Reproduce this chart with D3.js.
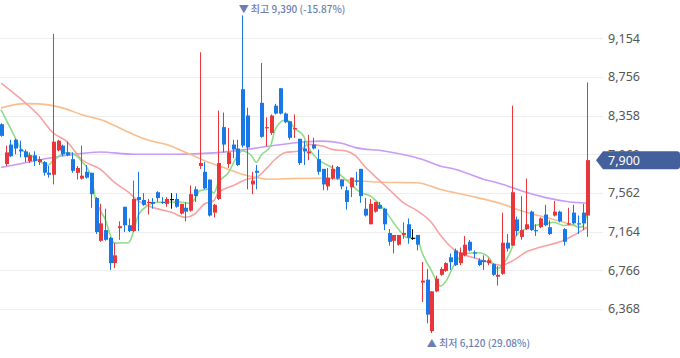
<!DOCTYPE html>
<html><head><meta charset="utf-8">
<script src="https://cdn.jsdelivr.net/npm/d3@7"></script>
<style>html,body{margin:0;padding:0;background:#fff;}svg{display:block;}</style>
</head><body><svg id="c" width="680" height="358"></svg>
<script>
// Candles (day index 0..124): open, high, low, close
const opens  = [8270,7860,8060,8110,8010,7990,7890,7950,7880,7880,7770,7750,8000,8050,7980,7910,7770,7710,7780,7770,
7510,7070,7180,7100,6840,7200,7420,7230,7170,7520,7490,7460,7470,7570,7470,7450,7500,7500,7350,7410,
7380,7600,7840,7780,7700,7360,7500,8240,7860,8060,8020,8630,8360,7650,7790,8490,8230,8180,8460,8640,
8380,8300,8220,8120,8020,7970,8060,7910,7810,7630,7710,7830,7700,7590,7620,7690,7810,7400,7240,7370,
7440,7400,7150,7070,7030,7130,7240,7100,7130,6640,6670,6140,6550,6720,6760,6900,6970,6840,6920,7060,
6950,6870,6870,6840,6830,6700,6730,7050,7020,7290,7110,7190,7370,7180,7210,7340,7210,7330,7370,7190,
7240,7360,7250,7360,7330];
const highs  = [8280,8050,8110,8120,8100,8010,7980,7990,7940,7890,7840,9200,8110,8060,8090,7980,7840,8050,7850,7770,
7520,7450,7400,7110,7050,7270,7420,7300,7690,7780,7560,7500,7510,7580,7520,7520,7560,7560,7450,7470,
7640,7630,9010,7880,7700,7450,8410,8390,8230,8110,8110,9390,8440,7780,7850,8900,8340,8370,8480,8640,
8390,8300,8370,8120,8100,8160,8130,8010,7810,7820,7850,7840,7700,7630,7720,7780,7810,7510,7500,7470,
7470,7410,7190,7130,7130,7260,7300,7190,7130,6850,6780,6550,6710,6800,6850,6940,6990,7000,7120,7080,
6970,6890,6920,6890,6840,6810,7360,7140,8460,7320,7530,7710,7380,7240,7310,7440,7280,7480,7380,7200,
7410,7440,7330,7450,8700];
const lows   = [8140,7840,7930,7960,7930,7880,7870,7840,7850,7740,7720,7650,7990,7940,7940,7770,7700,7700,7710,7410,
7140,7060,7070,6770,6790,7080,7160,7160,7160,7170,7430,7340,7400,7470,7450,7420,7400,7410,7340,7270,
7370,7470,7810,7600,7320,7310,7490,7980,7820,7920,7840,8030,7600,7550,7600,8130,8040,8160,8370,8370,
8280,8110,8130,7850,7850,7900,8010,7750,7590,7590,7700,7700,7600,7390,7520,7640,7460,7320,7240,7360,
7400,7180,7020,6940,7020,7090,7040,7080,6970,6440,6220,6120,6540,6710,6750,6770,6810,6820,6910,6960,
6890,6810,6770,6820,6710,6610,6720,6960,7020,7120,7080,7180,7170,7120,7200,7220,7130,7320,7260,7020,
7230,7240,7140,7180,7110];
const closes = [8150,7980,7940,8020,7990,7930,7950,7890,7910,7770,7750,8090,8100,7960,7950,7790,7820,7740,7720,7550,
7160,7250,7080,6840,6920,7220,7230,7170,7500,7490,7440,7470,7450,7510,7460,7500,7500,7420,7450,7370,
7550,7530,7870,7610,7330,7440,7870,8060,7980,8010,7850,8050,8030,7690,7770,8140,8240,8360,8380,8380,
8290,8130,8230,7870,7990,7990,8020,7780,7650,7720,7810,7710,7630,7470,7720,7680,7530,7330,7450,7470,
7400,7240,7060,7130,7130,7150,7100,7100,7030,6660,6310,6550,6680,6780,6840,6850,6820,6950,7030,6970,
6940,6820,6850,6870,6720,6720,7050,6990,7570,7170,7180,7240,7180,7170,7300,7230,7140,7370,7270,7060,
7250,7250,7240,7250,7900];

// Moving averages: [day index, value]
const ma5 = [[0,8420],[3,8131],[4,8032],[7,7929],[10,7848],[11,7892],[14,7977],[15,7970],[17,7892],[19,7738],[20,7500],[22,7295],[24,7046],[27,7050],[28,7162],[29,7329],[31,7431],[33,7466],[36,7466],[38,7469],[40,7454],[41,7500],[42,7585],[44,7602],[45,7561],[46,7670],[48,7766],[50,7943],[51,7994],[53,7945],[54,7878],[55,7950],[57,8045],[58,8216],[60,8311],[61,8301],[62,8233],[64,8147],[65,8032],[67,7909],[70,7824],[72,7738],[74,7653],[76,7568],[78,7533],[80,7448],[82,7329],[84,7193],[86,7101],[88,7096],[89,6954],[91,6766],[93,6604],[94,6647],[96,6835],[98,6937],[101,6947],[103,6906],[105,6783],[106,6817],[108,6988],[109,7124],[111,7193],[113,7227],[115,7244],[117,7261],[119,7227],[121,7237],[122,7210],[123,7220],[124,7364]];
const ma20 = [[0,8694],[4,8538],[8,8359],[11,8182],[14,8088],[17,7909],[21,7807],[24,7671],[27,7568],[29,7482],[32,7415],[36,7364],[39,7312],[41,7346],[43,7449],[45,7482],[46,7568],[49,7636],[52,7704],[54,7722],[56,7807],[58,7909],[60,7977],[63,7994],[65,8062],[68,8045],[70,8011],[73,7994],[75,7943],[77,7832],[79,7738],[82,7602],[85,7466],[88,7380],[91,7261],[93,7124],[96,6971],[100,6896],[103,6852],[106,6817],[107,6835],[109,6886],[111,6954],[113,6988],[116,7029],[119,7073],[121,7124],[124,7208]];
const ma60 = [[0,8438],[5,8482],[8,8479],[13,8438],[17,8369],[22,8301],[25,8233],[28,8165],[31,8108],[35,8062],[40,7960],[44,7875],[48,7807],[51,7755],[54,7722],[57,7704],[62,7711],[68,7714],[75,7687],[82,7670],[88,7668],[93,7597],[99,7533],[106,7449],[110,7380],[115,7312],[119,7261],[121,7227],[124,7203]];
const ma120 = [[0,7824],[7,7892],[14,7950],[21,7984],[28,7960],[37,7960],[45,7975],[52,8011],[57,8045],[64,8086],[68,8096],[72,8073],[75,8029],[81,7994],[86,7947],[89,7909],[93,7837],[96,7807],[102,7704],[106,7653],[110,7585],[115,7517],[120,7472],[124,7457]];

const yTicks = [6368,6766,7164,7562,7960,8358,8756,9154];
const lastPrice = 7900;
const highLabel = "▼ 최고 9,390 (-15.87%)";
const lowLabel = "▲ 최저 6,120 (29.08%)";
const highIdx = 51, lowIdx = 91;

const svg = d3.select("#c");
const n = closes.length;
const x = d3.scaleLinear().domain([0, n-1]).range([1, 587.3]);
const y = d3.scaleLinear().domain([6368, 9154]).range([309, 38.3]);
const fmt = d3.format(",");

// grid
svg.append("g").selectAll("line").data(yTicks).join("line")
  .attr("x1",0).attr("x2",603)
  .attr("y1",d=>Math.round(y(d))+0.5).attr("y2",d=>Math.round(y(d))+0.5)
  .attr("stroke","#eeeeee").attr("stroke-width",1);
svg.append("g").selectAll("text").data(yTicks).join("text")
  .attr("x",608).attr("y",d=>y(d)).attr("dy","0.35em")
  .attr("font-family","'Noto Sans', sans-serif").attr("font-size",12.5)
  .attr("fill","#555").text(d=>fmt(d));

const plot = svg.append("g");
svg.append("clipPath").attr("id","clipP").append("rect").attr("x",0).attr("y",0).attr("width",603).attr("height",358);
plot.attr("clip-path","url(#clipP)");

const line = d3.line().x(d=>x(d[0])).y(d=>y(d[1])).curve(d3.curveMonotoneX);
[[ma120,"#c69cf6"],[ma60,"#fbbd8b"],[ma20,"#f7a3a3"],[ma5,"#8fdc8a"]].forEach(([data,col])=>{
  plot.append("path").datum(data).attr("d",line).attr("fill","none")
    .attr("stroke",col).attr("stroke-width",1.6);
});

const idx = d3.range(n);
const col = i => closes[i] > opens[i] ? "#e8363b" : (closes[i] < opens[i] ? "#1a78e6" : "#111");
const g = plot.append("g");
g.selectAll("line").data(idx).join("line")
  .attr("x1",i=>Math.round(x(i))+0.5).attr("x2",i=>Math.round(x(i))+0.5)
  .attr("y1",i=>y(highs[i])).attr("y2",i=>y(lows[i]))
  .attr("stroke",col).attr("stroke-width",1);
g.selectAll("rect").data(idx).join("rect")
  .attr("x",i=>Math.round(x(i))-1).attr("width",4)
  .attr("y",i=>y(Math.max(opens[i],closes[i])))
  .attr("height",i=>Math.max(1.2, y(Math.min(opens[i],closes[i]))-y(Math.max(opens[i],closes[i]))))
  .attr("fill",col);

// annotations
svg.append("text").attr("x",x(highIdx)-3.5).attr("y",12.5)
  .attr("font-family","'Noto Sans CJK KR', sans-serif").attr("font-size",10)
  .attr("font-weight",500)
  .attr("fill","#6b7eb4").text(highLabel);
svg.append("text").attr("x",x(lowIdx)-4.5).attr("y",346.5)
  .attr("font-family","'Noto Sans CJK KR', sans-serif").attr("font-size",10)
  .attr("font-weight",500)
  .attr("fill","#6b7eb4").text(lowLabel);

// last price tag (covers the 7,960 tick label as in the reference)
const py = y(lastPrice);
svg.append("path").attr("d",`M596,${py} L603,${py-9} L677,${py-9} Q680,${py-9} 680,${py-6} L680,${py+6} Q680,${py+9} 677,${py+9} L603,${py+9} Z`)
  .attr("fill","#44609c");
svg.append("text").attr("x",608).attr("y",py).attr("dy","0.35em")
  .attr("font-family","'Noto Sans', sans-serif").attr("font-size",12.5)
  .attr("fill","#fff").text(fmt(lastPrice));
</script></body></html>
